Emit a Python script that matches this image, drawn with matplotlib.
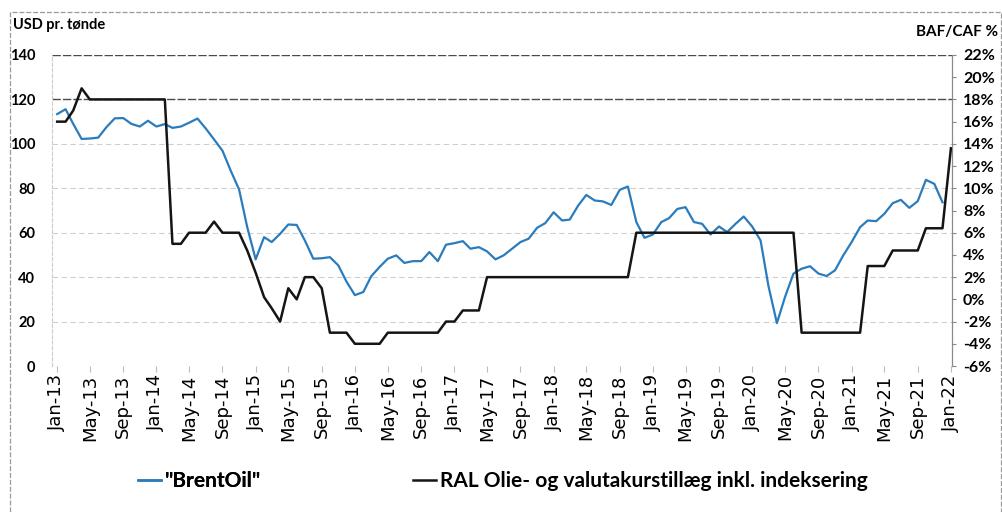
import matplotlib
matplotlib.use('Agg')
import matplotlib.pyplot as plt
import pandas as pd
from matplotlib.lines import Line2D
from matplotlib.patches import Rectangle

# ---------------- data ----------------
months = pd.date_range('2013-01-01', '2022-01-01', freq='MS')  # Jan-13 .. Jan-22

brent = [
    113.4, 115.6, 109.0, 102.2, 102.4, 102.8, 107.5, 111.5, 111.6, 109.0, 107.8, 110.4,   # 2013
    107.8, 108.9, 107.2, 107.8, 109.5, 111.4, 107.0, 102.0, 96.9, 88.0, 79.5, 62.5,       # 2014
    48.0, 58.0, 55.8, 59.5, 63.7, 63.5, 56.5, 48.3, 48.5, 49.0, 45.3, 38.0,               # 2015
    31.9, 33.3, 40.4, 44.6, 48.3, 49.8, 46.4, 47.2, 47.2, 51.3, 47.2, 54.6,               # 2016
    55.3, 56.2, 52.8, 53.5, 51.6, 48.0, 49.8, 52.8, 55.8, 57.3, 62.2, 64.3,               # 2017
    69.2, 65.5, 65.9, 72.2, 77.0, 74.5, 74.1, 72.5, 79.3, 80.8, 64.8, 57.7,               # 2018
    59.2, 64.8, 66.5, 70.7, 71.5, 64.8, 64.0, 59.2, 62.8, 60.3, 64.0, 67.3,               # 2019
    62.8, 56.5, 36.0, 19.3, 31.1, 41.6, 43.8, 44.9, 41.6, 40.5, 43.1, 49.8,               # 2020
    55.8, 62.5, 65.5, 65.2, 68.5, 73.3, 74.8, 71.2, 74.2, 83.8, 82.0, 73.7,               # 2021
]

ral = [
    16, 16, 17, 19, 18, 18, 18, 18, 18, 18, 18, 18,                                       # 2013
    18, 18, 5, 5, 6, 6, 6, 7, 6, 6, 6, 4.4,                                               # 2014
    2.4, 0.2, -0.8, -2, 1, 0, 2, 2, 1, -3, -3, -3,                                        # 2015
    -4, -4, -4, -4, -3, -3, -3, -3, -3, -3, -3, -2,                                       # 2016
    -2, -1, -1, -1, 2, 2, 2, 2, 2, 2, 2, 2,                                               # 2017
    2, 2, 2, 2, 2, 2, 2, 2, 2, 2, 6, 6,                                                   # 2018
    6, 6, 6, 6, 6, 6, 6, 6, 6, 6, 6, 6,                                                   # 2019
    6, 6, 6, 6, 6, 6, -3, -3, -3, -3, -3, -3,                                             # 2020
    -3, -3, 3, 3, 3, 4.4, 4.4, 4.4, 4.4, 6.4, 6.4, 6.4,                                   # 2021
    13.6,                                                                                 # 2022
]

left_ticks = list(range(0, 141, 20))
right_ticks = list(range(-6, 23, 2))
xtick_dates = months[::4]
xtick_labels = [d.strftime('%b-%y') for d in xtick_dates]

label_left = 'USD pr. tønde'
label_right = 'BAF/CAF %'
legend_brent = '"BrentOil"'
legend_ral = 'RAL Olie- og valutakurstillæg inkl. indeksering'

# ---------------- styling ----------------
BLUE = '#2a7cbd'
BLACK = '#151515'
BOLD_FONT = ['Lato', 'DejaVu Sans']

fig = plt.figure(figsize=(10.03, 5.12), dpi=100)
fig.patch.set_facecolor('white')

# outer frame
fig.patches.append(Rectangle((10 / 1003, -0.05), 991 / 1003, 1 - 12 / 512 + 0.05,
                             transform=fig.transFigure, fill=False,
                             edgecolor='#9a9a9a', lw=0.9, ls=(0, (4, 1.5))))

ax = fig.add_axes([52 / 1003, 1 - 366 / 512, 900 / 1003, 311 / 512])
ax2 = ax.twinx()

ax.plot(months[:len(brent)], brent, color=BLUE, lw=1.6, zorder=3)
ax2.plot(months, ral, color=BLACK, lw=1.8, zorder=3)

ax.set_ylim(0, 140)
ax2.set_ylim(-6, 22)
ax.set_xlim(pd.Timestamp('2012-12-13'), pd.Timestamp('2022-01-05'))

# grid lines
for v in left_ticks:
    if v in (120, 140):
        ax.axhline(v, color='#4a4a4a', lw=1.0, ls=(0, (6, 1.5)), zorder=1)
    else:
        ax.axhline(v, color='#cfcfcf', lw=0.8, ls=(0, (5, 3)), zorder=1)

ax.set_yticks(left_ticks)
ax.set_yticklabels([str(v) for v in left_ticks], fontfamily=BOLD_FONT,
                   fontweight='bold', fontsize=10.5)
ax.tick_params(axis='y', length=0, pad=12)

ax2.set_yticks(right_ticks)
ax2.set_yticklabels([f'{v}%' for v in right_ticks], fontfamily=BOLD_FONT,
                    fontweight='bold', fontsize=11.5)
ax2.tick_params(axis='y', length=3, direction='out', color='#888888', pad=5)

ax.set_xticks(xtick_dates)
ax.set_xticklabels(xtick_labels, rotation=90, fontsize=13, fontfamily='DejaVu Sans')
ax.tick_params(axis='x', length=4, direction='out', color='#bbbbbb', pad=2)

for a in (ax, ax2):
    a.spines['top'].set_visible(False)
    a.spines['bottom'].set_visible(False)
ax.spines['left'].set_color('#cccccc')
ax.spines['left'].set_linestyle((0, (3, 2)))
ax.spines['right'].set_visible(False)
ax2.spines['left'].set_visible(False)
ax2.spines['right'].set_color('#8a8a8a')
ax2.spines['right'].set_linewidth(0.9)

fig.text(13 / 1003, 1 - 25 / 512, label_left, fontfamily=BOLD_FONT, fontweight='bold',
         fontsize=10.5, ha='left', va='center')
fig.text(998 / 1003, 1 - 32 / 512, label_right, fontfamily=BOLD_FONT, fontweight='bold',
         fontsize=11, ha='right', va='center')

h1 = Line2D([], [], color=BLUE, lw=1.8)
h2 = Line2D([], [], color=BLACK, lw=1.8)
leg1 = fig.legend([h1], [legend_brent], loc='center left',
                  bbox_to_anchor=(138 / 1003, 1 - 481 / 512), frameon=False,
                  handlelength=1.1, handletextpad=0.2, borderpad=0, borderaxespad=0,
                  prop={'family': BOLD_FONT, 'weight': 'bold', 'size': 15})
leg2 = fig.legend([h2], [legend_ral], loc='center left',
                  bbox_to_anchor=(413 / 1003, 1 - 481 / 512), frameon=False,
                  handlelength=1.1, handletextpad=0.2, borderpad=0, borderaxespad=0,
                  prop={'family': BOLD_FONT, 'weight': 'bold', 'size': 15})
fig.add_artist(leg1)

fig.savefig('out.png', dpi=100, facecolor='white')
